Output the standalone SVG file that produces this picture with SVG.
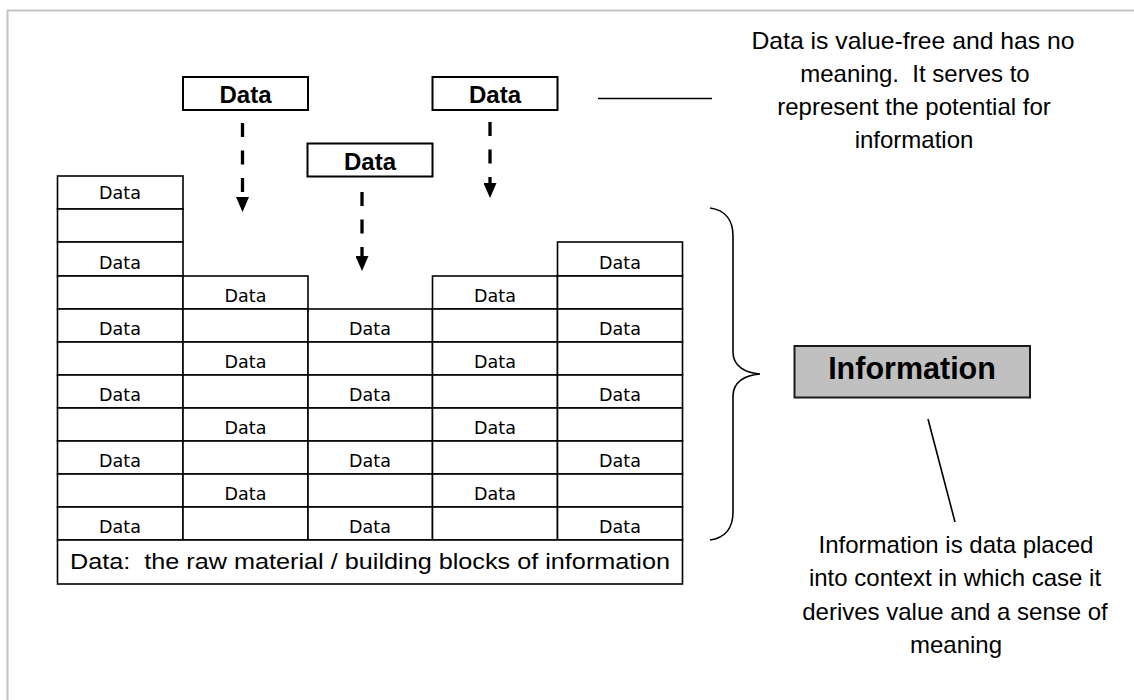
<svg xmlns="http://www.w3.org/2000/svg" width="1134" height="700" viewBox="0 0 1134 700">
<defs>
<style>
.cell{fill:#fff;stroke:#000;stroke-width:1.6}
.ct{font-family:"DejaVu Sans",sans-serif;font-size:17.5px;fill:#000;text-anchor:middle}
.hb{fill:#fff;stroke:#000;stroke-width:2}
.ht{font-family:"Liberation Sans",Arial,sans-serif;font-size:24px;font-weight:bold;fill:#000;text-anchor:middle}
.note{font-family:"Liberation Sans",Arial,sans-serif;font-size:24px;fill:#000;text-anchor:middle}
.dash{stroke:#000;stroke-width:3.3;stroke-dasharray:14 13.5;fill:none}
.ln{stroke:#000;stroke-width:1.6;fill:none}
</style>
<marker id="ah" viewBox="0 0 15 13" refX="0" refY="6.5" markerWidth="15" markerHeight="13" markerUnits="userSpaceOnUse" orient="auto">
<path d="M0,0 L15,6.5 L0,13 z" fill="#000"/>
</marker>
</defs>
<rect x="0" y="0" width="1134" height="700" fill="#fff"/>
<path d="M7.5,700 V10.5 H1134" fill="none" stroke="#c4c4c4" stroke-width="2"/>

<g id="grid">
<rect class="cell" x="57.5" y="176" width="125.5" height="33"/>
<rect class="cell" x="57.5" y="209" width="125.5" height="33"/>
<rect class="cell" x="57.5" y="242" width="125.5" height="34"/>
<rect class="cell" x="57.5" y="276" width="125.5" height="33"/>
<rect class="cell" x="57.5" y="309" width="125.5" height="33"/>
<rect class="cell" x="57.5" y="342" width="125.5" height="33"/>
<rect class="cell" x="57.5" y="375" width="125.5" height="33"/>
<rect class="cell" x="57.5" y="408" width="125.5" height="33"/>
<rect class="cell" x="57.5" y="441" width="125.5" height="33"/>
<rect class="cell" x="57.5" y="474" width="125.5" height="33"/>
<rect class="cell" x="57.5" y="507" width="125.5" height="33"/>
<rect class="cell" x="183" y="276" width="125" height="33"/>
<rect class="cell" x="183" y="309" width="125" height="33"/>
<rect class="cell" x="183" y="342" width="125" height="33"/>
<rect class="cell" x="183" y="375" width="125" height="33"/>
<rect class="cell" x="183" y="408" width="125" height="33"/>
<rect class="cell" x="183" y="441" width="125" height="33"/>
<rect class="cell" x="183" y="474" width="125" height="33"/>
<rect class="cell" x="183" y="507" width="125" height="33"/>
<rect class="cell" x="308" y="309" width="124.5" height="33"/>
<rect class="cell" x="308" y="342" width="124.5" height="33"/>
<rect class="cell" x="308" y="375" width="124.5" height="33"/>
<rect class="cell" x="308" y="408" width="124.5" height="33"/>
<rect class="cell" x="308" y="441" width="124.5" height="33"/>
<rect class="cell" x="308" y="474" width="124.5" height="33"/>
<rect class="cell" x="308" y="507" width="124.5" height="33"/>
<rect class="cell" x="432.5" y="276" width="125" height="33"/>
<rect class="cell" x="432.5" y="309" width="125" height="33"/>
<rect class="cell" x="432.5" y="342" width="125" height="33"/>
<rect class="cell" x="432.5" y="375" width="125" height="33"/>
<rect class="cell" x="432.5" y="408" width="125" height="33"/>
<rect class="cell" x="432.5" y="441" width="125" height="33"/>
<rect class="cell" x="432.5" y="474" width="125" height="33"/>
<rect class="cell" x="432.5" y="507" width="125" height="33"/>
<rect class="cell" x="557.5" y="242" width="125" height="34"/>
<rect class="cell" x="557.5" y="276" width="125" height="33"/>
<rect class="cell" x="557.5" y="309" width="125" height="33"/>
<rect class="cell" x="557.5" y="342" width="125" height="33"/>
<rect class="cell" x="557.5" y="375" width="125" height="33"/>
<rect class="cell" x="557.5" y="408" width="125" height="33"/>
<rect class="cell" x="557.5" y="441" width="125" height="33"/>
<rect class="cell" x="557.5" y="474" width="125" height="33"/>
<rect class="cell" x="557.5" y="507" width="125" height="33"/>
<rect class="cell" x="57.5" y="540" width="625" height="44"/>

<text class="ct" x="120" y="199">Data</text>
<text class="ct" x="120" y="268.5">Data</text>
<text class="ct" x="120" y="334.5">Data</text>
<text class="ct" x="120" y="400.5">Data</text>
<text class="ct" x="120" y="466.5">Data</text>
<text class="ct" x="120" y="532.5">Data</text>

<text class="ct" x="245.5" y="301.5">Data</text>
<text class="ct" x="245.5" y="367.5">Data</text>
<text class="ct" x="245.5" y="433.5">Data</text>
<text class="ct" x="245.5" y="499.5">Data</text>

<text class="ct" x="370" y="334.5">Data</text>
<text class="ct" x="370" y="400.5">Data</text>
<text class="ct" x="370" y="466.5">Data</text>
<text class="ct" x="370" y="532.5">Data</text>

<text class="ct" x="495" y="301.5">Data</text>
<text class="ct" x="495" y="367.5">Data</text>
<text class="ct" x="495" y="433.5">Data</text>
<text class="ct" x="495" y="499.5">Data</text>

<text class="ct" x="620" y="268.5">Data</text>
<text class="ct" x="620" y="334.5">Data</text>
<text class="ct" x="620" y="400.5">Data</text>
<text class="ct" x="620" y="466.5">Data</text>
<text class="ct" x="620" y="532.5">Data</text>

<text xml:space="preserve" x="370" y="569" font-family="Liberation Sans, Arial, sans-serif" font-size="22" text-anchor="middle" textLength="600" lengthAdjust="spacingAndGlyphs">Data:  the raw material / building blocks of information</text>
</g>

<g id="data1">
<rect class="hb" x="183" y="77" width="125" height="33"/>
<text class="ht" x="245.5" y="103">Data</text>
</g>
<g id="data2">
<rect class="hb" x="307.5" y="143.5" width="125" height="33"/>
<text class="ht" x="370" y="169.5">Data</text>
</g>
<g id="data3">
<rect class="hb" x="432.5" y="77" width="125" height="33"/>
<text class="ht" x="495" y="103">Data</text>
</g>

<g id="information">
<rect x="794.5" y="346" width="235.5" height="51.5" fill="#c0c0c0" stroke="#1a1a1a" stroke-width="2"/>
<text x="912" y="378.5" font-family="Liberation Sans, Arial, sans-serif" font-size="30.5" font-weight="bold" text-anchor="middle">Information</text>
</g>

<g id="note-data">
<text class="note" x="913" y="49" textLength="323" lengthAdjust="spacingAndGlyphs">Data is value-free and has no</text>
<text class="note" xml:space="preserve" x="915" y="82">meaning.  It serves to</text>
<text class="note" x="914" y="115">represent the potential for</text>
<text class="note" x="914" y="148">information</text>
</g>

<g id="note-info">
<text class="note" x="956" y="553">Information is data placed</text>
<text class="note" x="955" y="586">into context in which case it</text>
<text class="note" x="955" y="620">derives value and a sense of</text>
<text class="note" x="956" y="653">meaning</text>
</g>

<g id="connectors">
<path class="dash" d="M242.5,123 V197" marker-end="url(#ah)"/>
<path class="dash" d="M490,122 V183" marker-end="url(#ah)"/>
<path class="dash" d="M362,192 V256" marker-end="url(#ah)"/>
<line class="ln" x1="598" y1="98.5" x2="712" y2="98.5"/>
<path class="ln" d="M710,208 C725,210 733,220 733,236 L733,352 C733,366 745,373 760,374 C745,375 733,382 733,396 L733,512 C733,528 725,538 710,540"/>
<line class="ln" x1="928" y1="419" x2="955" y2="522"/>
</g>
</svg>
